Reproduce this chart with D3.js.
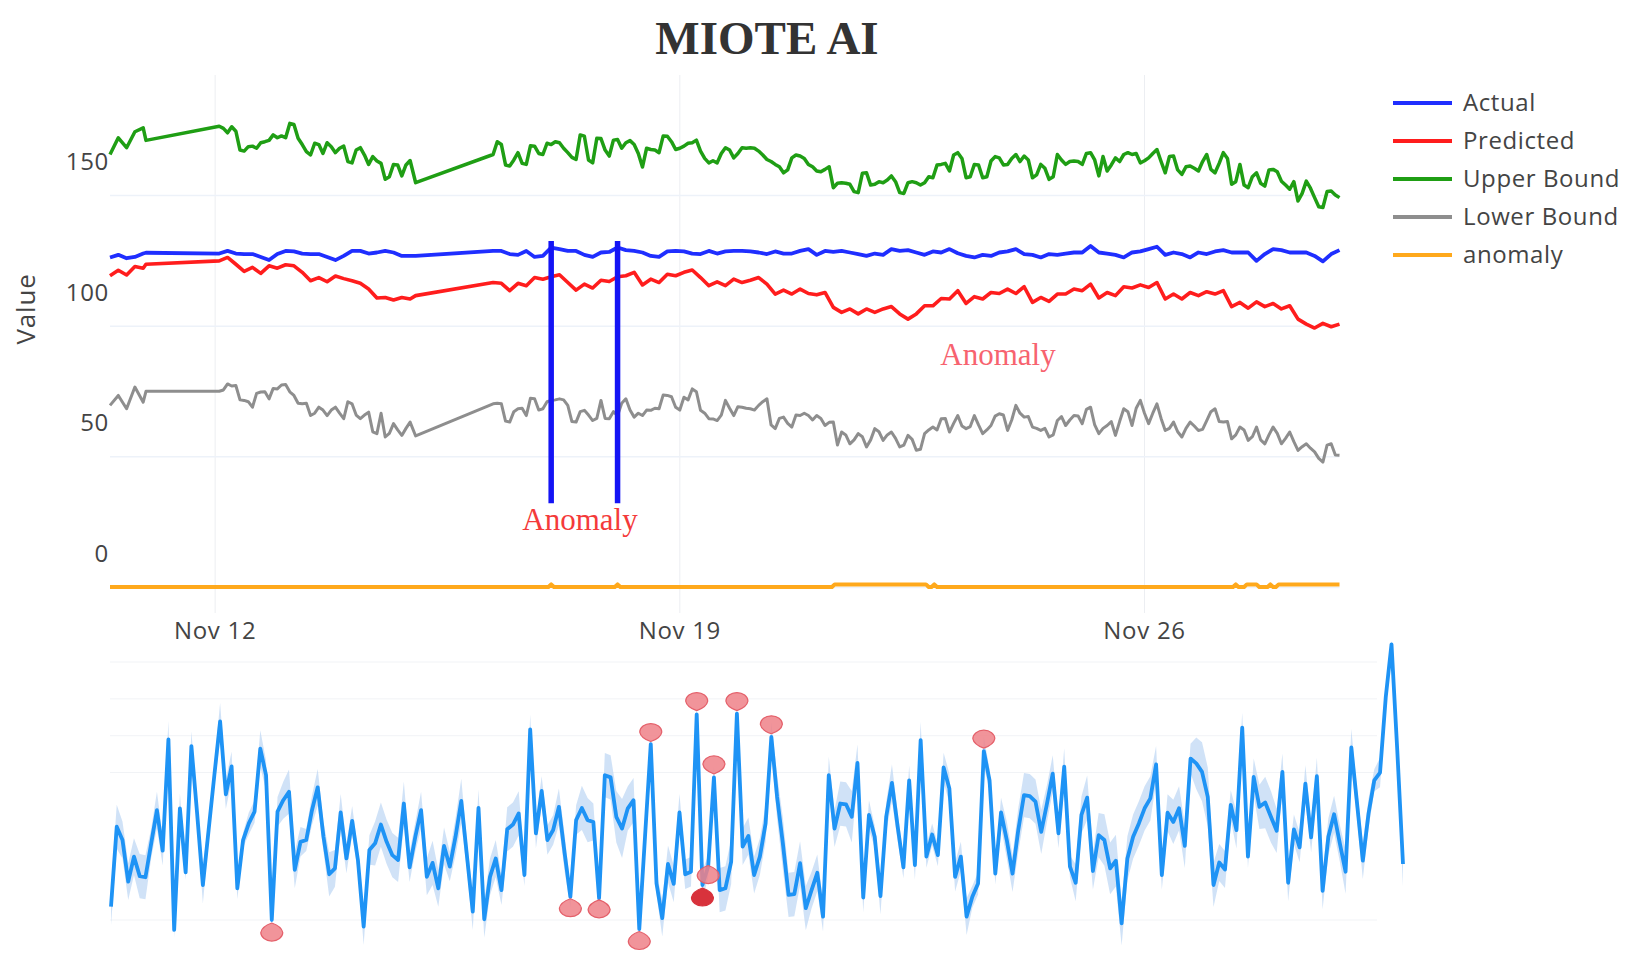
<!DOCTYPE html>
<html lang="en">
<head>
  <meta charset="UTF-8">
  <title>MIOTE AI</title>
  <script src="https://d3js.org/d3.v7.min.js"></script>
  <style>
    * { margin: 0; padding: 0; }
    body { background: #fff; overflow: hidden; }
    svg { display: block; }
    .axis path { display: none; }
    .axis text { font-family: 'Open Sans', sans-serif; font-size: 24px; letter-spacing: 0.7px; fill: #444; }
    .legend text { font-family: 'Open Sans', sans-serif; font-size: 24px; letter-spacing: 0.6px; fill: #444; }
    .note { font-family: 'Liberation Serif', serif; font-size: 31px; }
  </style>
</head>
<body>
  <svg id="chart" width="1632" height="968"></svg>

  <script>
    // sample times, hours after the first reading (readings stop twice, the line just joins up)
    const hours = [0, 3, 6, 9, 12, 13]
      .concat(d3.range(39.5, 110, 3), [110.5])
      .concat(d3.range(138.5, 445, 3));
    // the bounds are noisier, they also get a reading between the samples
    const midHours = d3.range(41, 108, 3).concat(d3.range(140, 444, 3));

    const actual = [
      126.1, 127.1, 125.8, 126.3, 127.6, 127.9,
      127.6, 128.6, 127.6, 127.4, 127.4, 126.3, 125.1, 127.4, 128.6, 128.4, 127.6, 127.4, 127.4, 126.3, 125.1, 126.7, 128.6, 128.6, 127.6, 128, 128.6, 128, 126.7, 126.7, 126.7,
      128.6, 128.6, 127.4, 127.1, 128.6, 126.3, 126.7, 129.9, 129.3, 128.6,
      128.6, 127.1, 126.3, 128, 128.2, 129.9, 128.9, 128.6, 128, 126.7,
      126.3, 128.4, 128.6, 128.4, 127.6, 127.4, 128.6, 127.6, 128.4, 128.6,
      128.6, 128.4, 128, 127.4, 128.4, 127.6, 127.6, 128.6, 129.3, 127.1,
      128.6, 128.2, 128.6, 128, 127.4, 126.7, 127.6, 127.1, 129.3, 128.6,
      128.9, 128, 127.1, 128.4, 128, 129.3, 127.7, 126.7, 126.1, 127.1,
      126.7, 128, 128.4, 129.3, 127.4, 127.1, 126.1, 127.4, 127.1, 127.6,
      128, 128, 130.5, 128, 127.6, 127.1, 126.1, 128, 128.4, 129.3,
      130.2, 127.1, 128, 127.4, 126.1, 128, 127.4, 128.4, 128.9, 128,
      128, 128, 124.8, 127.4, 129.3, 128.9, 128, 128, 128, 126.7,
      124.6, 127.4, 128.9
    ];

    const predicted = [
      119.1, 121.2, 119.4, 122.6, 122, 123.5,
      124.8, 126.1, 123.5, 120.8, 122.3, 120, 122.9, 122, 123.3, 122.9, 120.4, 117.2, 118.4, 116.8, 119, 118, 117.2, 116.2, 114, 110.6, 110.8, 109.8, 110.8, 110.2, 111.5,
      116.5, 116.2, 113.4, 116.2, 115.3, 118.4, 117.8, 118.7, 119.5, 116.5,
      113.6, 115.9, 114.4, 117.4, 116.9, 118.7, 119.1, 120.4, 115.6, 117.8,
      116.5, 119.7, 119.1, 120.4, 121.3, 118.4, 115.3, 116.8, 115.3, 117.8,
      116.5, 117.4, 118.4, 115.9, 112.1, 113.6, 112.1, 114, 112.3, 111.8,
      112.7, 107, 105.1, 106.4, 104.5, 106.4, 105.1, 106.4, 107.3, 104.5,
      102.5, 104.5, 107.6, 107.6, 110.4, 110.2, 113.4, 108.5, 111.1, 110.2,
      112.7, 112.3, 114, 112.3, 114.9, 108.9, 110.8, 109.3, 112.1, 112.1,
      114, 113.4, 115.9, 110.6, 112.7, 111.5, 114.9, 114.4, 115.6, 114.6,
      116.5, 110.2, 112.1, 110.2, 112.7, 111.5, 113, 112.1, 113.4, 107.3,
      108.9, 106.7, 109.1, 107.3, 108.5, 106.4, 107.6, 102.5, 100.6, 99.1,
      100.9, 99.6, 100.6
    ];

    const upperBound = [
      165.5, 171.9, 168.1, 174.2, 175.7, 170.9,
      176.3, 173.8, 174.4, 166.8, 168.7, 170, 170.9, 171.9, 171.9, 177, 169.3, 165.3, 169.3, 170, 166.2, 168.7, 162.3, 168.1, 161.7, 163, 156, 161.7, 157.3, 163.2, 154.7,
      165.5, 169.3, 161.1, 166.2, 161.7, 168.7, 165.5, 169.3, 170, 166.2,
      163.6, 172.5, 162.3, 171.6, 164.9, 171.2, 170, 169.3, 160.7, 167.4,
      166.2, 172.5, 167.4, 168.7, 170, 166.8, 162.3, 162.3, 168.1, 164.2,
      168.1, 168.1, 166.8, 163.6, 161.7, 158.5, 164.2, 164.9, 161.7, 159.2,
      159.8, 152.8, 154.7, 154.1, 150.9, 158.5, 154.1, 154.7, 157.3, 150.9,
      154.7, 154.7, 154.7, 156.6, 161.7, 159.2, 166.2, 156.6, 161.7, 156.6,
      163, 164.2, 161.7, 165.5, 164.9, 156.6, 161.7, 156, 165.5, 161.7,
      163, 161.7, 166.2, 157.3, 159.2, 164.2, 165.5, 165.5, 162.3, 164.2,
      167.4, 158.5, 164.9, 157.9, 161.1, 159.2, 165.5, 158.5, 166.2, 154.1,
      161.7, 152.8, 158.5, 153.4, 159.8, 155.3, 152.2, 147.7, 155.3, 149,
      145.2, 151.5, 149
    ];

    const upperMid = [
      175.5, 176.1, 167.2, 168.5, 167.9, 170.4, 173, 172.6, 177.4, 171.7, 166.6, 169.8, 165.9, 168.5, 167.9, 162.8, 167.2, 165.3, 164.7, 162.1, 157, 161.5, 161.5,
      170.4, 161.5, 163.4, 162.1, 168.8, 165.9, 169.8, 170.4, 167.9, 164.4,
      173, 163.4, 171.7, 167.2, 171, 167.9, 170.8, 165.9, 167.9, 167.2,
      172.6, 170.4, 167.9, 169.8, 171, 164, 163.1, 165.9, 167.2, 165.9,
      167.9, 167.9, 165.3, 162.8, 160.8, 159.6, 165.3, 164, 160.8, 158.9,
      160.8, 154.5, 154.5, 151.3, 158.3, 153.8, 155.1, 155.7, 155.1, 150.6,
      155.1, 153.8, 157, 161.5, 162.1, 165.3, 164, 157, 161.5, 157,
      164.7, 161.5, 164, 162.8, 163.4, 157.7, 160.2, 157, 163.4, 162.8,
      162.8, 165.9, 163.4, 164.7, 161.5, 162.8, 166.2, 165.9, 163.1, 165.9,
      162.8, 164.7, 159.6, 160.8, 160.2, 162.8, 159.8, 162.1, 164, 155.1,
      153.8, 157, 154.5, 159.6, 158.9, 153.8, 155.1, 150.6, 152.6, 145.5,
      151.3, 150
    ];

    const lowerBound = [
      69.5, 73.3, 68.2, 76.5, 70.7, 74.9,
      74.9, 77.7, 77.1, 71.4, 68.8, 74.6, 72, 75.8, 77.5, 73.3, 70.1, 65.6, 68.8, 65.6, 68.8, 64.4, 70.1, 64.4, 66.9, 58.7, 57.4, 62.5, 58, 63.1, 57.8,
      70.1, 70.1, 63.1, 68.2, 65.6, 72, 68.2, 71.4, 72, 69.5,
      63.1, 67.6, 63.7, 71.4, 64.4, 65.6, 72, 65, 65.6, 67.6,
      68.2, 73.3, 68.8, 72.6, 75.8, 67.6, 64.4, 63.7, 71.4, 65.6,
      68.8, 68.2, 69.5, 72, 60.6, 65, 61.2, 65.6, 65.6, 65.6,
      61.8, 63.1, 59.3, 54.8, 58.7, 53.6, 60.6, 56.1, 59.3, 53.6,
      58, 52.3, 58.7, 61.2, 64.4, 59.3, 65.6, 60.6, 65.6, 58.7,
      61.8, 66.3, 59.9, 69.5, 65, 61.2, 59.9, 57.4, 63.7, 61.8,
      65.6, 62.5, 68.8, 58.7, 61.8, 58, 68.2, 61.8, 71.4, 62.5,
      70.1, 59.9, 63.1, 57.4, 63.1, 59.9, 63.7, 68.2, 63.1, 56.7,
      61.2, 56.1, 61.2, 54.8, 61.2, 54.8, 59.3, 52.3, 54.8, 51.7,
      47.8, 54.8, 50.4
    ];

    const lowerMid = [
      75.4, 76.9, 71.6, 70.9, 74.1, 74.7, 76, 77.3, 74.7, 70.3, 70.3, 66.5, 67.7, 67.7, 66.5, 70.9, 65.8, 65.8, 59.4, 66.5, 58.8, 60.1, 60.7,
      70.3, 63.5, 67.1, 68.4, 72.2, 67.7, 70.9, 71.6, 71.6, 63.3,
      67.1, 65.8, 64.5, 64.5, 67.1, 70.3, 67.7, 66.5, 67.7, 68.4,
      73.5, 72.8, 67.7, 71.6, 74.7, 66.5, 64.3, 65.8, 68.4, 69,
      68.4, 67.7, 70.9, 62, 64.5, 62.6, 65.8, 66.5, 63.9, 64.5,
      63, 54.3, 58.2, 56.3, 57.5, 56.3, 59.4, 58.2, 56.9, 54.3,
      56.5, 52.7, 60.1, 60.1, 64.5, 62.6, 61.6, 61.4, 62, 60.1,
      65.4, 65.8, 63.9, 66.5, 65.2, 60.7, 60.7, 58.2, 65.2, 63.9,
      65.4, 68, 62, 60.7, 63.3, 63.3, 67.1, 68.4, 66.5, 66.5,
      64.5, 60.7, 59.4, 60.7, 61.6, 60.3, 67.1, 63.3, 63.3, 58.2,
      60.1, 57.5, 56.3, 58.2, 58.8, 56.9, 55.6, 53.7, 53.1, 49.2,
      54.3, 50.5
    ];

    // the two sudden drops of Actual
    const dropHours = [159.5, 183.5];
    const dropLow = 32;

    // anomaly flag has its own times, it is 0 or 1
    const flagHours = [0, 158.5, 159.5, 160.5, 182.5, 183.5, 184.5, 261, 262, 295, 296, 297, 298, 299, 406, 407, 408, 410, 411, 414.5, 415.5, 418.5, 419.5, 420.5, 421.5, 422.5, 444.5];
    const flagValues = [0, 0, 1, 0, 0, 1, 0, 0, 1, 1, 0, 0, 1, 0, 0, 1, 0, 0, 1, 1, 0, 0, 1, 0, 0, 1, 1];

    const seriesNames = ['Actual', 'Predicted', 'Upper Bound', 'Lower Bound', 'anomaly'];
    const seriesColors = ['#1f2eff', '#ff1d1d', '#1f9e14', '#8e8e8e', '#ffa91c'];
    const xTicks = [new Date(2023, 10, 12), new Date(2023, 10, 19), new Date(2023, 10, 26)];
    const yTicks = [0, 50, 100, 150];

    // lower panel, no axis labels in the picture
    const signal = [
      0.36, 2.53, 2.17, 1.04, 1.72, 1.19, 1.16, 2.08, 2.98, 1.88,
      4.9, -0.27, 3.03, 1.29, 4.72, 2.89, 0.95, 2.44, 3.93, 5.39,
      3.41, 4.17, 0.86, 2.17, 2.62, 2.94, 4.65, 3.93, 0, 2.94,
      3.25, 3.48, 1.36, 2.12, 2.17, 2.98, 3.6, 2.26, 1.24, 1.4,
      2.92, 1.67, 2.69, 1.63, -0.18, 1.9, 2.08, 2.59, 2.12, 1.76,
      1.63, 3.16, 1.43, 2.26, 2.98, 1.17, 1.55, 0.86, 2.01, 1.45,
      2.26, 3.23, 1.72, 0.23, 3.04, 0.02, 1.17, 1.67, 0.81, 2.46,
      2.59, 2.89, 1.22, 5.17, 2.35, 3.5, 2.17, 2.44, 3.07, 1.81,
      0.63, 2.71, 3.04, 2.71, 2.66, 0.59, 3.93, 3.87, 2.8, 2.48,
      3.03, 3.25, -0.25, 2.26, 4.77, 0.99, 0.05, 1.52, 0.98, 2.92,
      1.24, 1.31, 5.58, 0.95, 1.45, 3.87, 0.81, 0.86, 1.58, 5.6,
      1.99, 2.28, 1.22, 1.72, 2.62, 4.97, 3.34, 2.08, 0.68, 0.7,
      1.54, 0.32, 0.81, 1.28, 0.09, 3.93, 2.48, 3.16, 3.14, 2.8,
      4.26, 0.61, 2.85, 2.26, 0.65, 2.8, 3.72, 2.53, 1.43, 3.79,
      1.49, 4.88, 1.72, 2.32, 1.76, 4.14, 3.57, 1.17, 1.72, 0.09,
      0.63, 0.99, 4.58, 3.79, 1.26, 2.92, 2.17, 1.26, 2.44, 3.39,
      3.36, 3.21, 2.39, 3.16, 3.97, 2.35, 4.16, 1.45, 1.01, 2.85,
      3.32, 1.33, 2.3, 2.17, 1.4, 1.61, -0.09, 1.67, 2.26, 2.62,
      3.03, 3.3, 4.22, 1.22, 2.91, 2.66, 3.03, 2.01, 4.38, 4.25,
      4.02, 3.34, 0.95, 1.56, 1.37, 3.12, 2.44, 5.22, 1.72, 3.88,
      3.07, 3.19, 2.8, 2.42, 4.02, 1.01, 2.46, 1.97, 3.7, 2.24,
      3.9, 0.79, 2.26, 2.87, 2.08, 1.31, 4.68, 3.16, 1.61, 2.89,
      3.79, 4, 6.05, 7.48, 4.61, 1.52
    ];

    // half height of the pale band around signal
    const signalSpread = [
      .5, .6, .5, .5, .5, .6, .6, .4, .5, .4,
      .5, .2, .4, .2, .4, .3, .5, .3, .3, .5,
      .4, .4, .3, .2, .3, .3, .5, .4, .2, .4,
      .5, .6, .5, .4, .3, .4, .5, .4, .6, .5,
      .5, .4, .4, .3, .5, .4, .6, .6, .6, .6,
      .6, .6, .4, .4, .5, .5, .6, .5, .5, .4,
      .5, .6, .4, .5, .5, .5, .5, .5, .4, .6,
      .6, .6, .3, .4, .4, .4, .4, .4, .5, .5,
      .3, .4, .6, .6, .5, .3, .6, .6, .7, .8,
      .6, .6, .2, .2, .2, .3, .5, .5, .5, .5,
      .4, .4, .2, .4, .3, .3, .6, .6, .6, .3,
      .5, .5, .5, .5, .5, .4, .6, .7, .6, .6,
      .6, .6, .5, .5, .4, .5, .5, .6, .6, .7,
      .5, .4, .4, .3, .5, .4, .5, .4, .3, .4,
      .4, .5, .3, .3, .3, .4, .4, .4, .4, .5,
      .3, .3, .4, .3, .3, .4, .5, .5, .6, .6,
      .6, .6, .6, .5, .5, .4, .5, .3, .5, .5,
      .6, .5, .6, .7, .7, .7, .6, .6, .6, .6,
      .6, .6, .5, .4, .5, .6, .6, .6, .4, .7,
      .8, .8, .6, .5, .5, .4, .5, .4, .3, .5,
      .6, .7, .7, .6, .5, .5, .4, .4, .5, .4,
      .5, .5, .5, .5, .5, .6, .5, .4, .5, .4,
      .3, .4, .3, .1, .6, .6
    ];

    const markerIndex = [28, 80, 85, 92, 94, 102, 104, 105, 109, 115, 152, 103];
    const markerValue = [-0.34, 0.32, 0.29, -0.57, 5.1, 5.94, 1.22, 4.22, 5.94, 5.31, 4.92, 0.61];
    const signalTicks = [0, 1, 2, 3, 4, 5, 6, 7];

    const svg = d3.select('#chart');
    svg.append('rect').attr('width', 1632).attr('height', 968).attr('fill', '#fff');

    // first reading is Nov 10 10:10
    const toDate = h => new Date(2023, 10, 10, 10, 10 + h * 60);

    const x = d3.scaleTime().domain([toDate(0), toDate(444.5)]).range([110, 1339.5]);
    const y = d3.scaleLinear().domain([0, 150]).range([587, 195]);

    // grid and axes
    const xAxis = svg.append('g')
      .attr('class', 'axis')
      .attr('transform', 'translate(0,613)')
      .call(d3.axisBottom(x).tickValues(xTicks).tickSize(538).tickFormat(d3.timeFormat('Nov %-d')));
    xAxis.selectAll('line').attr('y1', 0).attr('y2', -538).attr('stroke', '#eceef2');
    xAxis.selectAll('text').attr('y', 18).attr('dy', '0.35em');

    const yAxis = svg.append('g')
      .attr('class', 'axis')
      .attr('transform', 'translate(110,0)')
      .call(d3.axisLeft(y).tickValues(yTicks).tickSize(0));
    yAxis.selectAll('line').attr('x2', 1229.5).attr('stroke', '#edf2f9').attr('stroke-width', 1.5);
    // labels sit about a third of a step above their gridlines in the picture
    yAxis.selectAll('text').attr('x', -1).attr('dy', '-32px').attr('alignment-baseline', 'middle');

    svg.append('text')
      .attr('transform', 'translate(35,309) rotate(-90)')
      .attr('text-anchor', 'middle')
      .style('font-family', "'Open Sans', sans-serif")
      .style('font-size', '26px')
      .style('letter-spacing', '0.8px')
      .style('fill', '#444')
      .text('Value');

    // series
    const line = d3.line()
      .x(d => x(toDate(d[0])))
      .y(d => y(d[1]));

    const drawSeries = (points, color, width) => {
      svg.append('path')
        .datum(points)
        .attr('fill', 'none')
        .attr('stroke', color)
        .attr('stroke-width', width)
        .attr('stroke-linejoin', 'round')
        .attr('d', line);
    };

    const zipPoints = (times, values) => times.map((t, i) => [t, values[i]]);
    const withMids = (values, mids) => zipPoints(hours, values)
      .concat(zipPoints(midHours, mids))
      .sort((a, b) => a[0] - b[0]);

    drawSeries(withMids(upperBound, upperMid), seriesColors[2], 3.5);
    drawSeries(withMids(lowerBound, lowerMid), seriesColors[3], 3);
    drawSeries(zipPoints(hours, predicted), seriesColors[1], 3.6);
    drawSeries(zipPoints(hours, actual), seriesColors[0], 3.8);
    dropHours.forEach(h => {
      const top = actual[d3.bisectLeft(hours, h)] + 2.5;
      drawSeries([[h, top], [h, dropLow]], '#1414f5', 5.5);
    });
    drawSeries(zipPoints(flagHours, flagValues), seriesColors[4], 4);

    // notes on the chart
    svg.append('text').attr('class', 'note')
      .attr('x', 580).attr('y', 530).attr('text-anchor', 'middle').attr('fill', '#f43a3a')
      .text('Anomaly');
    svg.append('text').attr('class', 'note')
      .attr('x', 998).attr('y', 365).attr('text-anchor', 'middle').attr('fill', '#f7636f')
      .text('Anomaly');

    svg.append('text')
      .attr('x', 767).attr('y', 54)
      .attr('text-anchor', 'middle')
      .style('font-family', "'Liberation Serif', serif")
      .style('font-weight', 'bold')
      .style('font-size', '47px')
      .style('fill', '#333')
      .text('MIOTE AI');

    // legend
    const legend = svg.append('g').attr('class', 'legend');
    seriesNames.forEach((name, i) => {
      const row = 103 + i * 38;
      legend.append('line')
        .attr('x1', 1393).attr('x2', 1452).attr('y1', row).attr('y2', row)
        .attr('stroke', seriesColors[i]).attr('stroke-width', 4);
      legend.append('text').attr('x', 1463).attr('y', row).attr('dy', '0.35em').text(name);
    });

    // lower panel
    const xLow = d3.scaleLinear().domain([0, signal.length - 1]).range([111, 1403]);
    const yLow = d3.scaleLinear().domain([0, 7]).range([920, 662]);

    svg.append('g')
      .selectAll('line')
      .data(signalTicks)
      .join('line')
      .attr('x1', 110).attr('x2', 1377)
      .attr('y1', d => yLow(d)).attr('y2', d => yLow(d))
      .attr('stroke', d => d >= 4 || d === 0 ? '#f1f3f6' : 'none');

    svg.append('path')
      .datum(signal)
      .attr('fill', '#bcd6f4')
      .attr('fill-opacity', 0.7)
      .attr('d', d3.area()
        .x((d, i) => xLow(i))
        .y0((d, i) => yLow(d - signalSpread[i]))
        .y1((d, i) => yLow(d + signalSpread[i])));

    svg.append('path')
      .datum(signal)
      .attr('fill', 'none')
      .attr('stroke', '#1e93f5')
      .attr('stroke-width', 3.8)
      .attr('stroke-linejoin', 'round')
      .attr('d', d3.line().x((d, i) => xLow(i)).y(d => yLow(d)));

    // markers are little drops, the tip points at the line
    const dropShape = 'M-11,0 A11,8.5 0 0 1 11,0 Q10,6 0,9.5 Q-10,6 -11,0 Z';
    svg.append('g')
      .selectAll('path')
      .data(markerIndex)
      .join('path')
      .attr('d', dropShape)
      .attr('transform', (d, i) => {
        const flip = markerValue[i] > signal[d] ? 1 : -1;
        return `translate(${xLow(d)},${yLow(markerValue[i])}) scale(1,${flip})`;
      })
      .attr('fill', d => d === 103 ? '#d8323c' : '#ee8188')
      .attr('fill-opacity', d => d === 103 ? 1 : 0.85)
      .attr('stroke', d => d === 103 ? '#d8323c' : '#e4606a')
      .attr('stroke-width', 1.2);
  </script>
</body>
</html>
